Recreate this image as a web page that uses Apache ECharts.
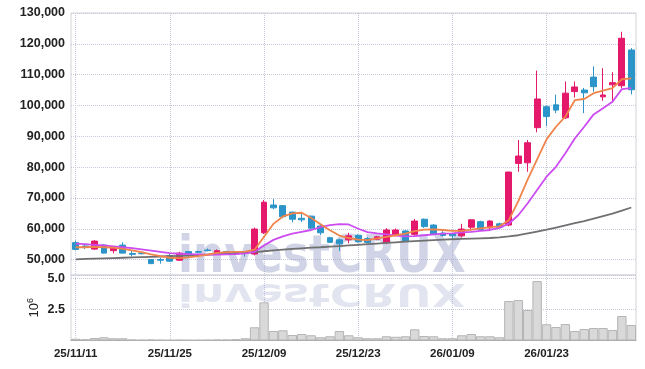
<!DOCTYPE html>
<html>
<head>
<meta charset="utf-8">
<script src="https://cdn.jsdelivr.net/npm/echarts@6/dist/echarts.min.js"></script>
<style>
  html, body { margin: 0; padding: 0; background: #fff; }
  #chart { width: 645px; height: 369px; }
</style>
</head>
<body>
<div id="chart"></div>
<script>
// 日期（交易日）
const dates = ['25/11/11','25/11/12','25/11/13','25/11/14','25/11/17','25/11/18','25/11/19','25/11/20','25/11/21','25/11/24',
  '25/11/25','25/11/26','25/11/27','25/11/28','25/12/01','25/12/02','25/12/03','25/12/04','25/12/05','25/12/08',
  '25/12/09','25/12/10','25/12/11','25/12/12','25/12/15','25/12/16','25/12/17','25/12/18','25/12/19','25/12/22',
  '25/12/23','25/12/24','25/12/26','25/12/29','25/12/30','26/01/02','26/01/05','26/01/06','26/01/07','26/01/08',
  '26/01/09','26/01/12','26/01/13','26/01/14','26/01/15','26/01/16','26/01/19','26/01/20','26/01/21','26/01/22',
  '26/01/23','26/01/26','26/01/27','26/01/28','26/01/29','26/01/30','26/02/02','26/02/03','26/02/04','26/02/05'];

// 开盘 / 收盘 / 最低 / 最高
const openVals = [55500,54400,53400,54700,52900,54700,52000,52100,50000,50000,
  51300,49800,52600,52600,53100,52300,52600,52500,52500,51800,
  58700,67700,67500,65400,63400,64100,60900,57100,56400,56400,
  57900,56800,56600,55500,58000,59300,58200,63100,61200,58600,
  58400,57700,60500,62300,60300,61600,61200,81200,81400,92800,
  99600,100200,96000,104500,105000,109200,102800,106700,106400,118000];
const closeVals = [53300,54100,56000,52100,53700,52100,51700,51900,48700,49800,
  49500,52100,51300,52400,52900,52900,52400,52300,52300,59900,
  68600,66800,63900,63100,62900,60200,58700,55600,55100,57700,
  55800,55600,57400,59600,59600,56100,62500,60700,58200,57800,
  57700,59900,62900,59800,62500,60500,78400,83600,87900,102100,
  96400,98500,104000,106000,104100,106100,103400,107400,121800,105100];
const lowVals = [53000,53400,53200,52000,52000,52000,51000,51700,48500,48700,
  49300,49600,51000,52200,52700,52000,52100,52000,51000,51400,
  58300,66300,63400,62100,62200,60000,58000,55400,52800,55300,
  55500,55400,56300,55000,57700,56000,57700,60300,57900,57500,
  56400,57200,59400,59600,59800,60300,60800,78500,78500,91300,
  93300,97500,95600,102600,97500,104500,101500,100900,105600,103600];
const highVals = [56200,55000,56300,55000,54000,55600,52800,52200,50100,50600,
  51800,52500,52800,52900,53600,53300,52900,52800,52700,60400,
  69300,69600,67700,65600,65200,64300,61200,57400,56800,58700,
  58200,57300,57700,60200,60100,59500,63200,63300,61500,59200,
  58700,61600,63100,62600,62800,62000,78500,88800,88800,111300,
  100000,103500,107800,107800,105700,112700,112100,110800,123900,118600];

// 均线
const maShort = [54000,54000,54100,54000,53900,53500,53000,52400,51700,51100,
  50600,50500,50700,51100,51600,52200,52400,52500,52600,53200,
  57400,61600,64000,65000,65200,63500,61500,59500,57800,57000,
  56500,56300,56900,57400,57900,58400,59200,59700,59800,59600,
  59300,59300,59700,60100,60500,60800,62800,69000,76000,82500,
  89000,93100,96400,101700,102100,104000,104800,105600,108500,108800];
const maMid = [55200,55000,54800,54600,54300,54000,53700,53300,52900,52500,
  52100,51900,51800,51700,51600,51600,51700,51800,52000,52500,
  54600,56400,57500,58400,59000,59600,60500,61200,61500,61400,
  60000,58900,58500,58200,57800,57500,57600,57900,58200,58400,
  58500,58800,59000,59300,59600,60300,61700,64400,68300,72600,
  76900,80100,84500,89300,93100,97100,99100,101200,105300,105600];
const maLong = [50100,50200,50300,50400,50500,50600,50700,50800,50900,51000,
  51100,51200,51300,51450,51600,51750,51900,52050,52200,52400,
  52700,53000,53250,53450,53650,53850,54000,54200,54400,54600,
  54800,55000,55200,55400,55600,55800,56000,56150,56300,56450,
  56600,56700,56800,56900,57000,57200,57500,57900,58500,59100,
  59700,60400,61100,61800,62500,63300,64100,64900,65900,66900];

// 成交量（单位 10^6）
const volumes = [0.14,0.10,0.20,0.26,0.18,0.18,0.08,0.06,0.08,0.06,
  0.05,0.06,0.05,0.05,0.06,0.08,0.08,0.10,0.18,1.06,
  3.06,0.76,0.82,0.44,0.52,0.42,0.26,0.34,0.76,0.42,
  0.26,0.18,0.18,0.34,0.30,0.34,0.90,0.36,0.34,0.18,
  0.18,0.42,0.52,0.34,0.34,0.26,3.16,3.24,2.44,4.76,
  1.30,1.08,1.32,0.76,0.92,1.00,1.00,0.84,1.96,1.24];

const candles = dates.map((d, i) => [openVals[i], closeVals[i], lowVals[i], highVals[i]]);

const labelFont = "'Liberation Sans', sans-serif";
const gridDot = { type: 'dotted', color: '#c6c9dc', width: 1 };
const markFont = 'bold 52px "DejaVu Sans"';

const chart = echarts.init(document.getElementById('chart'));

const option = {
  animation: false,
  graphic: [
    // 水印及倒影
    {
      type: 'text', x: 178, y: 284, scaleX: 0.845, z: 1, silent: true,
      style: { text: 'investCRUX', font: markFont, fill: 'rgba(150,160,200,0.45)', textVerticalAlign: 'bottom' }
    },
    {
      type: 'text', x: 178, y: 277, scaleX: 0.845, scaleY: -0.6, z: 1, silent: true,
      style: { text: 'investCRUX', font: markFont, fill: 'rgba(150,160,200,0.28)', textVerticalAlign: 'bottom' }
    }
  ],
  grid: [
    { left: 71, right: 9, top: 13, height: 262, show: true, borderColor: '#d3d3da', borderWidth: 1 },
    { left: 71, right: 9, top: 13, height: 246.6 },
    { left: 71, right: 9, top: 275, height: 65.5, show: true, borderColor: '#d3d3da', borderWidth: 1 }
  ],
  xAxis: [
    {
      type: 'category', gridIndex: 0, data: dates, boundaryGap: true,
      axisLine: { show: false }, axisTick: { show: false }, axisLabel: { show: false },
      splitLine: { show: true, interval: 9, alignWithLabel: true, lineStyle: gridDot }
    },
    {
      type: 'category', gridIndex: 1, data: dates, show: false
    },
    {
      type: 'category', gridIndex: 2, data: dates, boundaryGap: true,
      axisLine: { show: true, lineStyle: { color: '#a8a8a8' } },
      axisTick: { show: false },
      axisLabel: { interval: 9, margin: 7, color: '#222', fontSize: 11.5, fontWeight: 'bold', fontFamily: labelFont },
      splitLine: { show: true, interval: 9, alignWithLabel: true, lineStyle: gridDot }
    }
  ],
  yAxis: [
    { type: 'value', gridIndex: 0, min: 45000, max: 130000, show: false },
    {
      type: 'value', gridIndex: 1, min: 50000, max: 130000, interval: 10000,
      axisLine: { show: false }, axisTick: { show: false },
      axisLabel: {
        margin: 6, color: '#222', fontSize: 12.5, fontWeight: 'bold', fontFamily: labelFont,
        formatter: v => v.toLocaleString('en-US')
      },
      splitLine: { lineStyle: gridDot }
    },
    {
      type: 'value', gridIndex: 2, min: 0, max: 5.25, interval: 2.5,
      axisLine: { show: false }, axisTick: { show: false },
      axisLabel: {
        margin: 6, color: '#222', fontSize: 12.5, fontWeight: 'bold', fontFamily: labelFont,
        showMinLabel: false, showMaxLabel: false,
        formatter: v => v.toFixed(1)
      },
      splitLine: { lineStyle: gridDot },
      name: '10{s|6}', nameLocation: 'middle', nameRotate: 90, nameGap: 29, nameMoveOverlap: false,
      nameTextStyle: {
        color: '#222', fontSize: 13, fontFamily: labelFont,
        rich: { s: { fontSize: 9, color: '#222', fontFamily: labelFont, verticalAlign: 'top', padding: [0, 0, 7, 0] } }
      }
    }
  ],
  series: [
    {
      type: 'candlestick', xAxisIndex: 0, yAxisIndex: 0, data: candles, barWidth: '68%',
      itemStyle: { color: '#e4196b', color0: '#2b94c8', borderColor: '#e4196b', borderColor0: '#2b94c8', borderWidth: 1 }
    },
    {
      type: 'line', xAxisIndex: 0, yAxisIndex: 0, data: maLong, symbol: 'none',
      lineStyle: { color: '#707070', width: 1.8 }
    },
    {
      type: 'line', xAxisIndex: 0, yAxisIndex: 0, data: maMid, symbol: 'none',
      lineStyle: { color: '#cc4cf0', width: 1.8 }
    },
    {
      type: 'line', xAxisIndex: 0, yAxisIndex: 0, data: maShort, symbol: 'none',
      lineStyle: { color: '#f0844a', width: 1.8 }
    },
    {
      type: 'bar', xAxisIndex: 2, yAxisIndex: 2, data: volumes, barWidth: '100%',
      itemStyle: { color: '#d9d9d9', borderColor: '#b5b5b5', borderWidth: 1 }
    }
  ]
};

chart.setOption(option);
</script>
</body>
</html>
